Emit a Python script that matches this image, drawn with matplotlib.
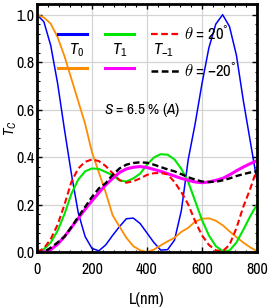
import matplotlib
matplotlib.use("Agg")
import matplotlib.pyplot as plt
from matplotlib.lines import Line2D
from matplotlib.ticker import MultipleLocator

plt.rcParams['font.family'] = ['Archivo Narrow', 'Liberation Sans', 'DejaVu Sans']
plt.rcParams['mathtext.fontset'] = 'custom'
plt.rcParams['mathtext.rm'] = 'Archivo Narrow'
plt.rcParams['mathtext.it'] = 'Archivo Narrow:italic'

# thickness L in nm
L = [0, 25, 50, 75, 100, 125, 150, 175, 200, 225, 250, 275, 300, 325, 350, 375, 400,
     425, 450, 475, 500, 525, 550, 575, 600, 625, 650, 675, 700, 725, 750, 775, 800]

# theta = 20 deg
t0_p = [1.0, 0.97, 0.87, 0.71, 0.515, 0.33, 0.165, 0.065, 0.015, 0.005, 0.03, 0.07, 0.107,
        0.14, 0.143, 0.12, 0.08, 0.04, 0.008, 0.01, 0.05, 0.175, 0.39, 0.54, 0.71, 0.86,
        0.96, 1.0, 0.95, 0.83, 0.64, 0.47, 0.3]
t1_p = [0.0, 0.012, 0.04, 0.09, 0.16, 0.245, 0.305, 0.34, 0.352, 0.35, 0.337, 0.323, 0.302,
        0.297, 0.31, 0.33, 0.368, 0.398, 0.412, 0.41, 0.39, 0.35, 0.295, 0.215, 0.135, 0.07,
        0.025, 0.004, 0.006, 0.04, 0.093, 0.15, 0.2]
tm1_p = [0.0, 0.015, 0.055, 0.115, 0.2, 0.295, 0.352, 0.38, 0.39, 0.383, 0.362, 0.332, 0.303,
         0.292, 0.298, 0.31, 0.325, 0.332, 0.333, 0.327, 0.295, 0.252, 0.2, 0.13, 0.07, 0.03,
         0.007, 0.003, 0.03, 0.1, 0.19, 0.265, 0.35]

# theta = -20 deg
t0_m = [1.0, 0.988, 0.962, 0.905, 0.825, 0.73, 0.635, 0.54, 0.42, 0.335, 0.25, 0.155, 0.107,
        0.06, 0.025, 0.007, 0.0, 0.01, 0.028, 0.045, 0.06, 0.085, 0.102, 0.128, 0.14, 0.142,
        0.132, 0.113, 0.087, 0.063, 0.04, 0.02, 0.003]
t1_m = [0.0, 0.0, 0.01, 0.033, 0.065, 0.103, 0.142, 0.18, 0.216, 0.25, 0.283, 0.31, 0.335,
        0.35, 0.357, 0.36, 0.356, 0.348, 0.34, 0.33, 0.32, 0.31, 0.302, 0.295, 0.292, 0.295,
        0.302, 0.31, 0.325, 0.342, 0.358, 0.372, 0.385]
tm1_m = [0.0, 0.0, 0.018, 0.04, 0.065, 0.105, 0.148, 0.19, 0.232, 0.268, 0.29, 0.325, 0.352,
         0.368, 0.375, 0.378, 0.376, 0.368, 0.358, 0.348, 0.34, 0.328, 0.315, 0.305, 0.297,
         0.295, 0.296, 0.302, 0.31, 0.32, 0.328, 0.335, 0.34]

blue = '#0000ff'
orange = '#ff8c00'
green = '#00e600'
magenta = '#ff00ff'
red = '#ff0000'

fig = plt.figure(figsize=(2.72, 3.07), dpi=100)
ax = fig.add_axes([37 / 272, 55 / 307, 220 / 272, 248 / 307])

ax.plot(L, t0_p, color=blue, lw=1.1)
ax.plot(L, t0_m, color=orange, lw=1.3)
ax.plot(L, t1_p, color=green, lw=1.5)
ax.plot(L, t1_m, color=magenta, lw=2.2)
ax.plot(L, tm1_p, color=red, lw=1.5, dashes=(3, 1.6))
ax.plot(L, tm1_m, color='black', lw=1.7, dashes=(2.7, 1.4))

ax.set_xlim(0, 800)
ax.set_ylim(0, 1.045)
ax.xaxis.set_major_locator(MultipleLocator(200))
ax.xaxis.set_minor_locator(MultipleLocator(40))
ax.yaxis.set_minor_locator(MultipleLocator(0.04))
ax.set_yticks([0, 0.2, 0.4, 0.6, 0.8, 1.0])
ax.set_yticklabels(['0.0', '0.2', '0.4', '0.6', '0.8', '1.0'])
ax.grid(True, which='major', color='#d4d4d4', lw=0.9)
ax.tick_params(which='both', direction='in', top=True, right=True, labelsize=11.5)
ax.tick_params(which='major', length=3.5, width=1)
ax.tick_params(which='minor', length=1.8, width=0.8)
ax.tick_params(axis='x', pad=7.5)
ax.tick_params(axis='y', pad=2)
for s in ax.spines.values():
    s.set_linewidth(2)

ax.set_xlabel('L(nm)', fontsize=12, labelpad=10.5)
ax.set_ylabel(r'$T_C$', fontsize=11)
ax.yaxis.set_label_coords(-0.08, 0.5)

ax.text(0.477, 0.573, r'$S$ = 6.5 % ($A$)', transform=ax.transAxes,
        ha='center', va='center', fontsize=11)

# grid-style legend
handles = [Line2D([], [], color=blue, lw=2.2), Line2D([], [], color=orange, lw=2.2),
           Line2D([], [], color=green, lw=2.2), Line2D([], [], color=magenta, lw=2.2),
           Line2D([], [], color=red, lw=1.6, dashes=(3, 1.6)),
           Line2D([], [], color='black', lw=1.8, dashes=(2.7, 1.4))]
labels = ['', '', '', '', r'$\theta$ = 20$^{°}$', r'$\theta$ = −20$^{°}$']
ax.legend(handles, labels, ncol=3, loc='upper left', bbox_to_anchor=(0.095, 0.918),
          frameon=False, fontsize=12, handlelength=1.75, handletextpad=0.2,
          columnspacing=0.85, labelspacing=1.1, borderpad=0, borderaxespad=0)
for x, s in [(0.182, r'$T_0$'), (0.375, r'$T_1$'), (0.577, r'$T_{-1}$')]:
    ax.text(x, 0.815, s, transform=ax.transAxes, ha='center', va='center', fontsize=12)

fig.savefig('out.png', dpi=100)
